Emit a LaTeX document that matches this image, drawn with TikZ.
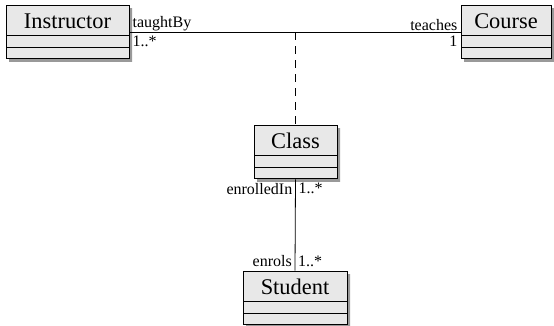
\documentclass[tikz,border=0pt]{standalone}
\usepackage{fontspec}
\setmainfont{Liberation Serif}
\usetikzlibrary{shapes.multipart, shadows}

\begin{document}
\begin{tikzpicture}[x=1pt, y=-1pt,
umlclass/.style={rectangle split, rectangle split parts=3, draw=black, line width=0.9pt,
    fill=black!9, inner ysep=0pt, inner xsep=2pt,
    rectangle split empty part height=11pt, rectangle split empty part depth=0pt,
    font=\fontsize{22.4}{26}\selectfont,
    drop shadow={shadow xshift=3pt, shadow yshift=-3pt, fill=black!40, opacity=1}},
role/.style={font=\fontsize{16}{18}\selectfont, inner xsep=3pt, inner ysep=1pt},
role-below/.style={role, inner ysep=3.5pt},
assoc/.style={draw, line width=0.8pt},
link/.style={assoc, dash pattern=on 8pt off 6pt}
]
\useasboundingbox (0,0) rectangle (554,325);

% classes
\node [umlclass, minimum width=123pt] (instructor) at (67.5,32)
    {\rule[-6.5pt]{0pt}{29pt}Instructor \nodepart{second} \nodepart{third}};
\node [umlclass, minimum width=90pt] (course) at (506,32)
    {\rule[-6.5pt]{0pt}{29pt}Course \nodepart{second} \nodepart{third}};
\node [umlclass, minimum width=83pt] (class) at (295.5,152)
    {\rule[-6.5pt]{0pt}{29pt}Class \nodepart{second} \nodepart{third}};
\node [umlclass, minimum width=104pt] (student) at (295,298)
    {\rule[-6.5pt]{0pt}{29pt}Student \nodepart{second} \nodepart{third}};

% associations
\path [assoc] (instructor.east) -- (course.west);
\coordinate (teach-mid) at (instructor.east -| class.north);
\path [link] (teach-mid) -- (class.north);
\path [assoc] (class.south) -- (student.north);

% roles and multiplicities
\node [role, anchor=south west] (taughtby) at (instructor.east) {taughtBy};
\node [role-below, anchor=north west] (taughtby-m) at (instructor.east) {1..*};
\node [role, anchor=south east] (teaches) at (course.west) {teaches};
\node [role-below, anchor=north east] (teaches-m) at (course.west) {1};
\node [role-below, anchor=north east] (enrolledin) at (class.south) {enrolledIn};
\node [role-below, anchor=north west] (enrolledin-m) at (class.south) {1..*};
\node [role, anchor=south east, yshift=3pt] (enrols) at (student.north) {enrols};
\node [role, anchor=base west] (enrols-m) at (enrols.base -| student.north) {1..*};

\end{tikzpicture}
\end{document}
